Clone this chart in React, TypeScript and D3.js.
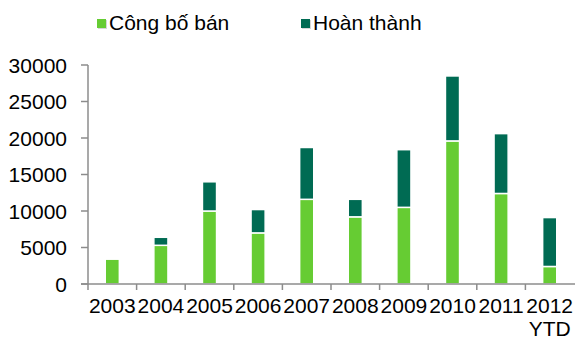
import React from "react";
import * as d3 from "d3";

const categories = ["2003", "2004", "2005", "2006", "2007", "2008", "2009", "2010", "2011", "2012\nYTD"];
const congBoBan = [3400, 5300, 10000, 7000, 11600, 9200, 10500, 19600, 12400, 2400];
const hoanThanh = [0, 1100, 4000, 3200, 7100, 2400, 7900, 8900, 8200, 6700];
const yTicks = [0, 5000, 10000, 15000, 20000, 25000, 30000];
const seriesNames = ["Công bố bán", "Hoàn thành"];
const colors = ["#66CC33", "#006B53"];

const W = 575, H = 344;
const left = 88, right = 574, top = 65, bottom = 284;

export default function App() {
  const x = d3.scaleBand<string>().domain(categories).range([left, right]).paddingInner(0.71).paddingOuter(0.355);
  const y = d3.scaleLinear().domain([0, 30000]).range([bottom, top]);
  const step = x.step();
  const font = "'Liberation Sans', Arial, sans-serif";
  const axisColor = "#8C8C8C";

  const rows = categories.map((c, i) => ({ c, a: congBoBan[i], b: hoanThanh[i] }));

  return (
    <svg width={W} height={H} style={{ position: "absolute", left: 0, top: 0 }} fontFamily={font}>
      <rect width={W} height={H} fill="#fff" />
      {/* legend */}
      {seriesNames.map((n, i) => {
        const lx = i === 0 ? 97 : 301;
        return (
          <g key={n}>
            <rect x={lx + 1} y={20} width={9} height={9} fill="#BBBBBB" opacity={0.6} />
            <rect x={lx} y={19} width={9} height={9} fill={colors[i]} />
            <text x={lx + 12} y={29.5} fontSize={21} fill="#000">{n}</text>
          </g>
        );
      })}
      {/* bars */}
      {rows.map((r) => (
        <g key={r.c}>
          <rect x={x(r.c)} y={y(r.a)} width={x.bandwidth()} height={y(0) - y(r.a)} fill={colors[0]} stroke="#fff" strokeWidth={1.5} />
          {r.b > 0 && (
            <rect x={x(r.c)} y={y(r.a + r.b)} width={x.bandwidth()} height={y(r.a) - y(r.a + r.b)} fill={colors[1]} stroke="#fff" strokeWidth={1.5} />
          )}
        </g>
      ))}
      {/* y axis */}
      <line x1={left} x2={left} y1={top} y2={bottom} stroke={axisColor} strokeWidth={1.5} />
      {yTicks.map((t) => (
        <g key={t}>
          <line x1={left - 7} x2={left} y1={y(t)} y2={y(t)} stroke={axisColor} strokeWidth={1.5} />
          <text x={67} y={y(t)} dy="0.36em" textAnchor="end" fontSize={21} fill="#000">{t}</text>
        </g>
      ))}
      {/* x axis */}
      <line x1={left - 7} x2={right + 1} y1={bottom} y2={bottom} stroke={axisColor} strokeWidth={1.5} />
      {categories.map((c, i) => (
        <line key={"t" + i} x1={left + i * step} x2={left + i * step} y1={bottom} y2={bottom + 6} stroke={axisColor} strokeWidth={1.5} />
      ))}
      {categories.map((c) => {
        const cx = (x(c) as number) + x.bandwidth() / 2;
        const lines = c.split("\n");
        return (
          <text key={"l" + c} x={cx} y={313} textAnchor="middle" fontSize={21} fill="#000">
            {lines.map((l, k) => (
              <tspan key={k} x={cx} dy={k === 0 ? 0 : 23}>{l}</tspan>
            ))}
          </text>
        );
      })}
    </svg>
  );
}
